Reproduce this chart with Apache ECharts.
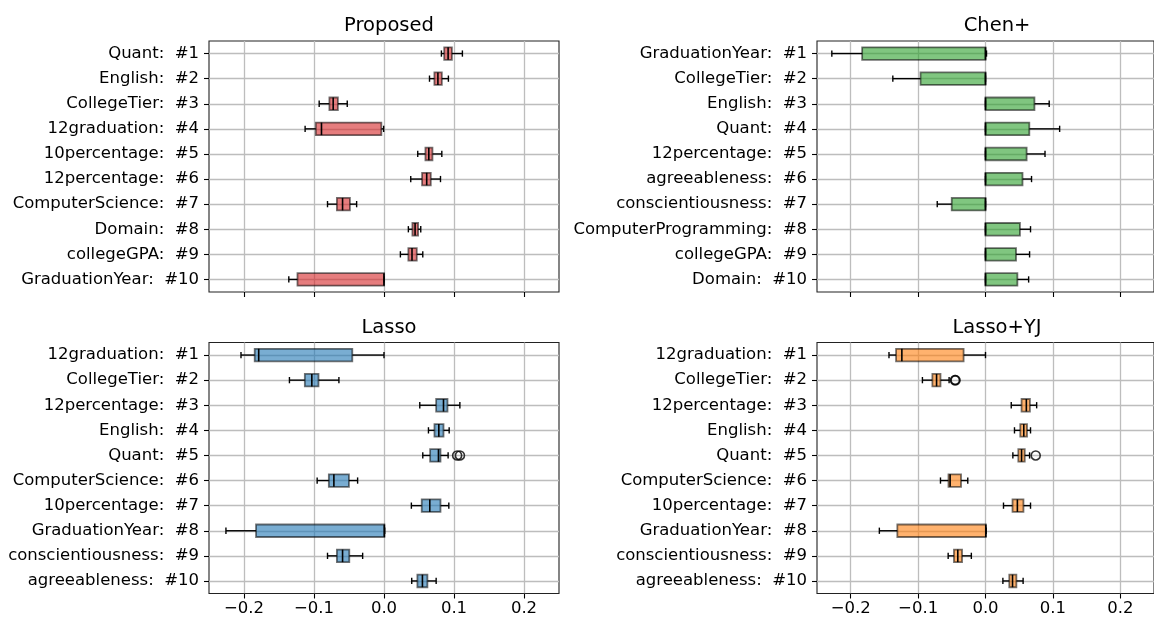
<!DOCTYPE html>
<html>
<head>
<meta charset="utf-8">
<script src="https://cdn.jsdelivr.net/npm/echarts@6/dist/echarts.min.js"></script>
<style>
  html, body { margin: 0; padding: 0; background: #fff; }
  #chart { width: 1154px; height: 619px; }
</style>
</head>
<body>
<div id="chart"></div>
<script>
// Feature-importance rankings: per-method box statistics [min, q1, median, q3, max]
const xTicks = [-0.2, -0.1, 0.0, 0.1, 0.2];
const rowTicks = [1, 2, 3, 4, 5, 6, 7, 8, 9, 10];

const proposedLabels = ['Quant', 'English', 'CollegeTier', '12graduation', '10percentage',
  '12percentage', 'ComputerScience', 'Domain', 'collegeGPA', 'GraduationYear'];
const proposedStats = [
  [0.082, 0.086, 0.0916, 0.097, 0.112],
  [0.065, 0.072, 0.077, 0.0826, 0.092],
  [-0.0926, -0.078, -0.0726, -0.0659, -0.0525],
  [-0.1127, -0.0974, -0.0893, -0.0038, -0.0005],
  [0.0482, 0.0592, 0.064, 0.0692, 0.0826],
  [0.0382, 0.0544, 0.061, 0.0668, 0.0807],
  [-0.0807, -0.0673, -0.0592, -0.0487, -0.0391],
  [0.0348, 0.0406, 0.0444, 0.0487, 0.0525],
  [0.0234, 0.0348, 0.040, 0.0468, 0.0554],
  [-0.136, -0.1236, 0.0, 0.0, 0.0]
];
const proposedOutliers = [];

const chenLabels = ['GraduationYear', 'CollegeTier', 'English', 'Quant', '12percentage',
  'agreeableness', 'conscientiousness', 'ComputerProgramming', 'collegeGPA', 'Domain'];
const chenStats = [
  [-0.228, -0.183, 0.0, 0.0, 0.0015],
  [-0.1375, -0.0964, 0.0, 0.0, 0.0],
  [0.0, 0.0, 0.0, 0.0726, 0.0945],
  [0.0, 0.0, 0.0, 0.065, 0.110],
  [0.0, 0.0, 0.0, 0.061, 0.0883],
  [0.0, 0.0, 0.0, 0.0549, 0.0683],
  [-0.0716, -0.0501, 0.0, 0.0, 0.0],
  [0.0, 0.0, 0.0, 0.0511, 0.0668],
  [0.0, 0.0, 0.0, 0.0453, 0.0654],
  [0.0, 0.0, 0.0, 0.0473, 0.064]
];
const chenOutliers = [];

const lassoLabels = ['12graduation', 'CollegeTier', '12percentage', 'English', 'Quant',
  'ComputerScience', '10percentage', 'GraduationYear', 'conscientiousness', 'agreeableness'];
const lassoStats = [
  [-0.2043, -0.1847, -0.179, -0.0453, 0.0],
  [-0.1351, -0.1131, -0.1031, -0.0936, -0.0644],
  [0.0511, 0.0745, 0.085, 0.0907, 0.1084],
  [0.0635, 0.0721, 0.0783, 0.085, 0.0931],
  [0.0554, 0.0659, 0.0778, 0.0807, 0.0916],
  [-0.0955, -0.0788, -0.0716, -0.0501, -0.0377],
  [0.0391, 0.0539, 0.0654, 0.0807, 0.0926],
  [-0.2258, -0.1828, 0.0005, 0.0005, 0.001],
  [-0.0807, -0.0673, -0.0592, -0.0496, -0.0305],
  [0.0396, 0.0477, 0.0549, 0.062, 0.0745]
];
const lassoOutliers = [[0.1045, 5], [0.1085, 5]];

const lassoYjLabels = ['12graduation', 'CollegeTier', '12percentage', 'English', 'Quant',
  'ComputerScience', '10percentage', 'GraduationYear', 'conscientiousness', 'agreeableness'];
const lassoYjStats = [
  [-0.1432, -0.1327, -0.1241, -0.0325, 0.0],
  [-0.0936, -0.0788, -0.0726, -0.0668, -0.054],
  [0.0382, 0.0535, 0.0606, 0.0659, 0.0759],
  [0.043, 0.0516, 0.0568, 0.0616, 0.0668],
  [0.0406, 0.0487, 0.0535, 0.0582, 0.0654],
  [-0.0668, -0.0549, -0.0525, -0.0363, -0.0263],
  [0.0267, 0.0401, 0.0473, 0.0563, 0.0668],
  [-0.1575, -0.1308, 0.0005, 0.0005, 0.001],
  [-0.0554, -0.0468, -0.0411, -0.0348, -0.021],
  [0.0258, 0.0353, 0.0401, 0.0458, 0.0558]
];
const lassoYjOutliers = [[-0.0444, 2], [-0.0454, 2], [0.0745, 5]];

const FONT = 'DejaVu Sans';
const panels = [
  { title: 'Proposed', labels: proposedLabels, stats: proposedStats, outliers: proposedOutliers,
    fill: 'rgba(214,39,40,0.6)', left: 209, top: 41, showX: false },
  { title: 'Chen+', labels: chenLabels, stats: chenStats, outliers: chenOutliers,
    fill: 'rgba(44,160,44,0.6)', left: 817, top: 41, showX: false },
  { title: 'Lasso', labels: lassoLabels, stats: lassoStats, outliers: lassoOutliers,
    fill: 'rgba(31,119,180,0.6)', left: 209, top: 342.5, showX: true },
  { title: 'Lasso+YJ', labels: lassoYjLabels, stats: lassoYjStats, outliers: lassoYjOutliers,
    fill: 'rgba(255,127,14,0.6)', left: 817, top: 342.5, showX: true }
];
const PW = 350, PH = 251;

function fmtTick(v) {
  return v.toFixed(1).replace('-', '\u2212');
}

function makeRender(fill) {
  return function (params, api) {
    const row = api.value(0);
    const lo = api.coord([api.value(1), row]);
    const q1 = api.coord([api.value(2), row]);
    const md = api.coord([api.value(3), row]);
    const q3 = api.coord([api.value(4), row]);
    const hi = api.coord([api.value(5), row]);
    const band = api.size([0, 1])[1];
    const bh = band * 0.5;
    const ch = band * 0.25;
    const cy = lo[1];
    const line = { stroke: '#000', lineWidth: 1.4 };
    return {
      type: 'group',
      children: [
        { type: 'line', shape: { x1: lo[0], y1: cy, x2: q1[0], y2: cy }, style: line },
        { type: 'line', shape: { x1: q3[0], y1: cy, x2: hi[0], y2: cy }, style: line },
        { type: 'line', shape: { x1: lo[0], y1: cy - ch / 2, x2: lo[0], y2: cy + ch / 2 }, style: line },
        { type: 'line', shape: { x1: hi[0], y1: cy - ch / 2, x2: hi[0], y2: cy + ch / 2 }, style: line },
        { type: 'rect', shape: { x: q1[0], y: cy - bh / 2, width: q3[0] - q1[0], height: bh },
          style: { fill: fill, stroke: 'rgba(0,0,0,0.55)', lineWidth: 1.8 } },
        { type: 'line', shape: { x1: md[0], y1: cy - bh / 2, x2: md[0], y2: cy + bh / 2 }, style: { stroke: '#000', lineWidth: 1.6 } }
      ]
    };
  };
}

const grids = [], xAxes = [], yAxes = [], series = [], titles = [];
panels.forEach(function (p, i) {
  grids.push({ left: p.left, top: p.top, width: PW, height: PH, show: true,
    borderColor: '#222', borderWidth: 1.1, backgroundColor: 'transparent' });
  titles.push({ text: p.title, left: p.left + PW / 2, top: p.top - 30, textAlign: 'center',
    textStyle: { fontFamily: FONT, fontSize: 19.5, fontWeight: 'normal', color: '#000' } });
  xAxes.push({ type: 'value', gridIndex: i, min: -0.25, max: 0.25, position: 'bottom',
    axisLine: { show: false, onZero: false },
    axisTick: { show: true, inside: false, length: 5, customValues: xTicks, lineStyle: { color: '#000', width: 1.1 } },
    axisLabel: { show: p.showX, customValues: xTicks, formatter: fmtTick, margin: 7,
      fontFamily: FONT, fontSize: 16.5, color: '#000' },
    splitLine: { show: true, lineStyle: { color: '#bdbdbd', width: 1.3 } } });
  yAxes.push({ type: 'value', gridIndex: i, min: 0.5, max: 10.5, inverse: true, position: 'left',
    axisLine: { show: false, onZero: false },
    axisTick: { show: true, inside: false, length: 5, customValues: rowTicks, lineStyle: { color: '#000', width: 1.1 } },
    axisLabel: { show: true, customValues: rowTicks, margin: 10, fontFamily: FONT, fontSize: 16.5, color: '#000',
      formatter: function (v) { return p.labels[Math.round(v) - 1] + ':  #' + Math.round(v); } },
    splitLine: { show: true, lineStyle: { color: '#bdbdbd', width: 1.3 } } });
  series.push({ type: 'custom', xAxisIndex: i, yAxisIndex: i,
    renderItem: makeRender(p.fill),
    encode: { x: [1, 2, 3, 4, 5], y: 0 },
    data: p.stats.map(function (s, k) { return [k + 1].concat(s); }),
    clip: false, silent: true });
  if (p.outliers.length) {
    series.push({ type: 'scatter', xAxisIndex: i, yAxisIndex: i, symbol: 'circle', symbolSize: 9,
      itemStyle: { color: 'rgba(0,0,0,0)', borderColor: '#000', borderWidth: 1.6 },
      data: p.outliers, silent: true });
  }
});

const chart = echarts.init(document.getElementById('chart'), null, { renderer: 'canvas' });
chart.setOption({
  animation: false,
  backgroundColor: '#fff',
  title: titles,
  grid: grids,
  xAxis: xAxes,
  yAxis: yAxes,
  series: series
});
</script>
</body>
</html>
